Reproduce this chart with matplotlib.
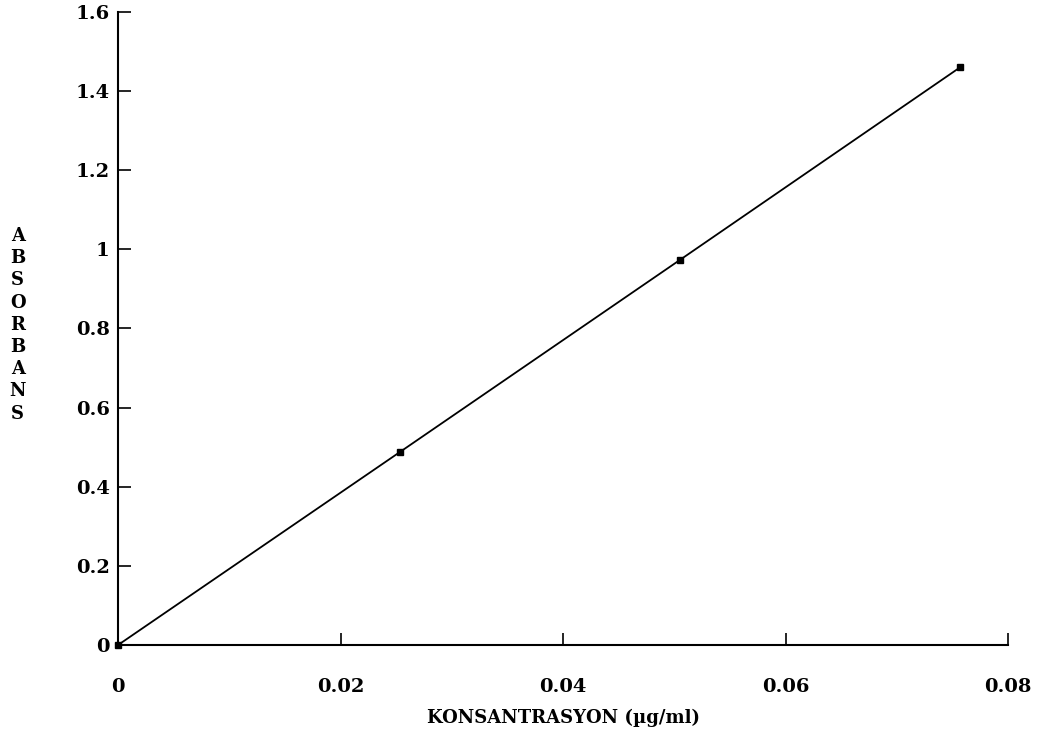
import matplotlib
matplotlib.use("Agg")
import matplotlib.pyplot as plt

# calibration data
konsantrasyon = [0.0, 0.0253, 0.0505, 0.0757]
absorbans = [0.0, 0.487, 0.973, 1.46]

x_ticks = [0, 0.02, 0.04, 0.06, 0.08]
x_ticklabels = ["0", "0.02", "0.04", "0.06", "0.08"]
y_ticks = [0, 0.2, 0.4, 0.6, 0.8, 1.0, 1.2, 1.4, 1.6]
y_ticklabels = ["0", "0.2", "0.4", "0.6", "0.8", "1", "1.2", "1.4", "1.6"]

plt.rcParams["font.family"] = ["DejaVu Serif"]
plt.rcParams["font.weight"] = "bold"

fig = plt.figure(figsize=(10.41, 7.38), dpi=100)
ax = fig.add_axes([0.1134, 0.126, 0.855, 0.858])

ax.plot(konsantrasyon, absorbans, color="black", linewidth=1.3,
        marker="s", markersize=4, clip_on=False)

ax.set_xlim(0, 0.08)
ax.set_ylim(0, 1.6)
ax.set_xticks(x_ticks)
ax.set_xticklabels(x_ticklabels, fontsize=14, fontweight="bold")
ax.set_yticks(y_ticks)
ax.set_yticklabels(y_ticklabels, fontsize=14, fontweight="bold")
ax.tick_params(direction="in", length=9, width=1.2)
ax.tick_params(axis="y", pad=6)
ax.tick_params(axis="x", pad=24)

for side in ["top", "right"]:
    ax.spines[side].set_visible(False)
for side in ["left", "bottom"]:
    ax.spines[side].set_linewidth(1.5)

ax.set_xlabel("KONSANTRASYON (µg/ml)", fontsize=13, fontweight="bold", labelpad=9)
fig.text(0.017, 0.56, "\n".join("ABSORBANS"), fontsize=13, fontweight="bold",
         ha="center", va="center", linespacing=1.3)

fig.savefig("out.png", dpi=100)
